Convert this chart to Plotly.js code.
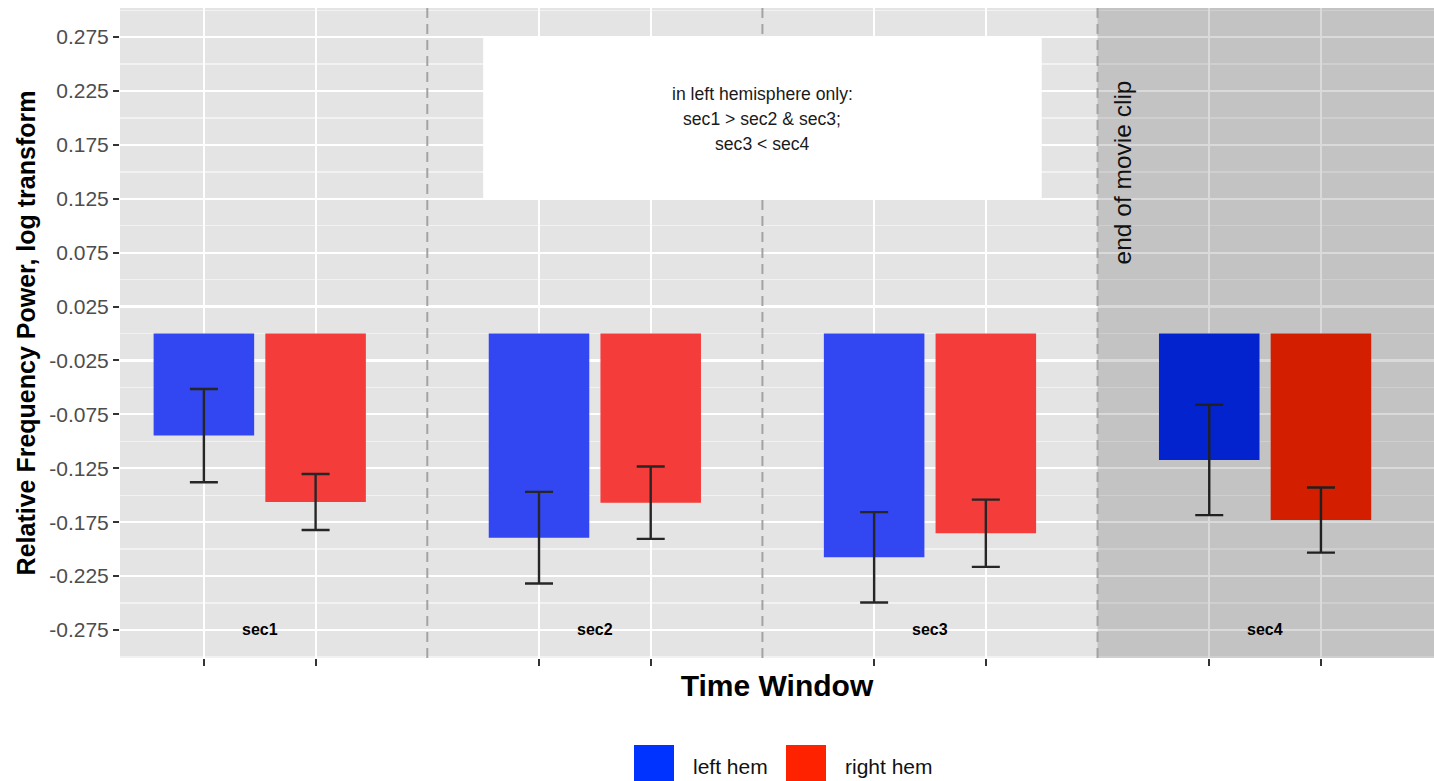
<!DOCTYPE html>
<html>
<head>
<meta charset="utf-8">
<script src="https://cdn.plot.ly/plotly-3.0.1.min.js"></script>
<style>
  html, body { margin: 0; padding: 0; background: #ffffff; }
  #chart { width: 1434px; height: 781px; }
</style>
</head>
<body>
<div id="chart"></div>
<script>
// ---------------- data ----------------
const sections = ['sec1', 'sec2', 'sec3', 'sec4'];
const seriesNames = ['left hem', 'right hem'];
const leftMean  = [-0.0947, -0.1894, -0.2076, -0.1173];
const leftSE    = [0.0433, 0.0425, 0.0419, 0.0512];
const rightMean = [-0.1563, -0.1569, -0.1853, -0.1730];
const rightSE   = [0.0260, 0.0336, 0.0312, 0.0302];
const yTickVals = [0.275, 0.225, 0.175, 0.125, 0.075, 0.025, -0.025, -0.075, -0.125, -0.175, -0.225, -0.275];
const yTickText = ['0.275', '0.225', '0.175', '0.125', '0.075', '0.025', '-0.025', '-0.075', '-0.125', '-0.175', '-0.225', '-0.275'];
const noteLines = ['in left hemisphere only:', 'sec1 > sec2 & sec3;', 'sec3 < sec4'];
const markerLabel = 'end of movie clip';
const xTitle = 'Time Window';
const yTitle = 'Relative Frequency Power, log transform';

// ---------------- styles ----------------
const FONT = 'Liberation Sans, Arial, Helvetica, sans-serif';
const leftColors  = ['#3246F2', '#3246F2', '#3246F2', '#042AF3'];
const rightColors = ['#F43C3B', '#F43C3B', '#F43C3B', '#F82400'];
const legendColors = ['#0033FF', '#FF2200'];
const OFFSET = 1 / 6;
const BARW = 0.3;

function esc(s) {
  return s.replace(/&/g, '&amp;').replace(/</g, '&lt;').replace(/>/g, '&gt;');
}

const pos = sections.map((s, i) => i + 1);
const xLeft = pos.map(p => p - OFFSET);
const xRight = pos.map(p => p + OFFSET);

const errStyle = { type: 'data', visible: true, color: '#262626', thickness: 2.4, width: 14 };

const traces = [
  {
    type: 'bar', name: seriesNames[0], x: xLeft, y: leftMean, base: 0, width: BARW,
    marker: { color: leftColors, line: { width: 0 } },
    error_y: Object.assign({ array: leftSE }, errStyle),
    showlegend: false, hoverinfo: 'y'
  },
  {
    type: 'bar', name: seriesNames[1], x: xRight, y: rightMean, base: 0, width: BARW,
    marker: { color: rightColors, line: { width: 0 } },
    error_y: Object.assign({ array: rightSE }, errStyle),
    showlegend: false, hoverinfo: 'y'
  }
];

const xr = [0.583, 4.504];
const yr = [-0.301, 0.302];

const shapes = [
  { type: 'rect', xref: 'x', yref: 'y', x0: 3.5, x1: 4.7, y0: -0.32, y1: 0.32,
    fillcolor: 'rgba(0,0,0,0.145)', line: { width: 0 }, layer: 'above' },
  ...[1.5, 2.5, 3.5].map(v => ({
    type: 'line', xref: 'x', yref: 'y', x0: v, x1: v, y0: yr[0], y1: yr[1],
    line: { color: '#A3A3A3', width: 2, dash: '10px,6px' }, layer: 'above'
  })),
  { type: 'rect', xref: 'x', yref: 'y', x0: 5 / 3, x1: 10 / 3, y0: 0.125, y1: 0.275,
    fillcolor: '#FFFFFF', line: { width: 0 }, layer: 'above' }
];

const W = 1314, H = 650;
const px2x = px => (px - 120) / W;
const py2y = py => (658 - py) / H;
const legendBoxes = [[634, 674], [786, 826]];
const legendTextX = [691, 843];
legendBoxes.forEach((b, i) => {
  shapes.push({ type: 'rect', xref: 'paper', yref: 'paper',
    x0: px2x(b[0]), x1: px2x(b[1]), y0: py2y(786), y1: py2y(745),
    fillcolor: legendColors[i], line: { width: 0 } });
});

const annotations = [];
sections.forEach((s, i) => {
  annotations.push({ x: pos[i], y: -0.275, xref: 'x', yref: 'y', text: '<b>' + s + '</b>',
    showarrow: false, xanchor: 'center', yanchor: 'middle',
    font: { family: FONT, size: 16, color: '#000000' } });
});
const noteY = [0.2223, 0.1991, 0.1759];
noteLines.forEach((t, i) => {
  annotations.push({ x: 2.5, y: noteY[i], xref: 'x', yref: 'y', text: esc(t),
    showarrow: false, xanchor: 'center', yanchor: 'middle',
    font: { family: FONT, size: 17.6, color: '#1a1a1a' } });
});
annotations.push({ x: 3.573, y: 0.1495, xref: 'x', yref: 'y', text: markerLabel,
  textangle: -90, showarrow: false, xanchor: 'center', yanchor: 'middle',
  font: { family: FONT, size: 24.5, color: '#111111' } });
seriesNames.forEach((n, i) => {
  annotations.push({ x: px2x(legendTextX[i]), y: py2y(766), xref: 'paper', yref: 'paper',
    text: n, showarrow: false, xanchor: 'left', yanchor: 'middle',
    font: { family: FONT, size: 21, color: '#111111' } });
});

const layout = {
  width: 1434, height: 781,
  margin: { l: 120, r: 0, t: 8, b: 123, pad: 0 },
  paper_bgcolor: '#FFFFFF',
  plot_bgcolor: '#E4E4E4',
  barmode: 'overlay',
  showlegend: false,
  font: { family: FONT, color: '#000000' },
  xaxis: {
    range: xr, tickmode: 'array',
    tickvals: xLeft.flatMap((v, i) => [v, xRight[i]]),
    ticktext: xLeft.flatMap(() => ['', '']),
    showticklabels: false,
    ticks: 'outside', ticklen: 7, tickwidth: 2, tickcolor: '#333333',
    showgrid: true, gridcolor: '#FFFFFF', gridwidth: 2.2,
    zeroline: false, showline: false, fixedrange: true,
    title: { text: '<b>' + xTitle + '</b>', standoff: 9,
      font: { family: FONT, size: 30, color: '#000000' } }
  },
  yaxis: {
    range: yr, tickmode: 'array', tickvals: yTickVals, ticktext: yTickText,
    ticks: 'outside', ticklen: 6, tickwidth: 2, tickcolor: '#333333',
    tickfont: { family: FONT, size: 21, color: '#4D4D4D' },
    showgrid: true, gridcolor: '#FFFFFF', gridwidth: 2.2,
    minor: { tickmode: 'linear', tick0: 0, dtick: 0.05, showgrid: true,
      gridcolor: '#F2F2F2', gridwidth: 1.3, ticks: '' },
    zeroline: false, showline: false, fixedrange: true,
    title: { text: '<b>' + yTitle + '</b>', standoff: 6,
      font: { family: FONT, size: 25, color: '#000000' } }
  },
  shapes: shapes,
  annotations: annotations
};

Plotly.newPlot('chart', traces, layout, { displayModeBar: false, staticPlot: true });
</script>
</body>
</html>
